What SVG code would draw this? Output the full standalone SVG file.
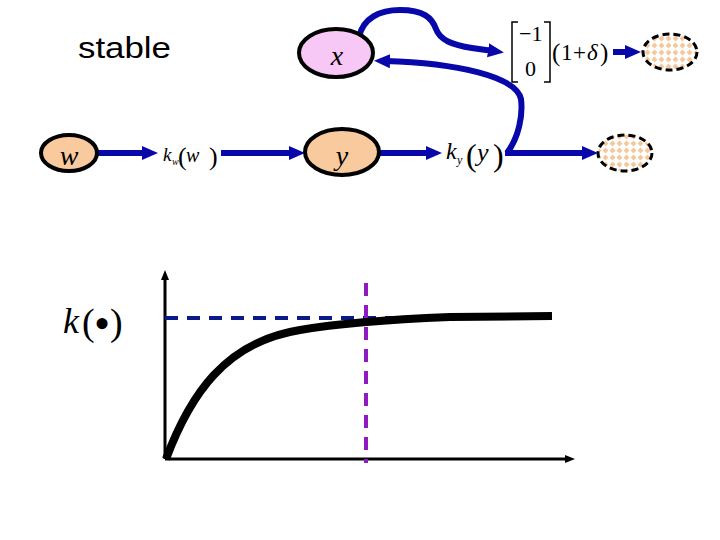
<svg xmlns="http://www.w3.org/2000/svg" width="720" height="540" viewBox="0 0 720 540">
<style>
.node{stroke:#000;stroke-width:4}
.pink{fill:#f7c8f5}
.peach{fill:#f8ca9e}
.ghost{fill:url(#chk);stroke:#000;stroke-width:3;stroke-dasharray:7 4}
.math{font-family:"Liberation Serif","Times New Roman",serif;fill:#000}
.it{font-style:italic}
.conn{fill:none;stroke:#0808aa;stroke-width:6}
.sans{font-family:"Liberation Sans",Arial,sans-serif;fill:#000}
</style>
<defs>
<marker id="arr" viewBox="0 0 16 16" refX="5" refY="8" markerWidth="16" markerHeight="16" markerUnits="userSpaceOnUse" orient="auto">
<path d="M0,1 L16,8 L0,15 z" fill="#0808aa"/>
</marker>
<marker id="ax" viewBox="0 0 10 10" refX="3" refY="5" markerWidth="10" markerHeight="10" markerUnits="userSpaceOnUse" orient="auto">
<path d="M0,1 L10,5 L0,9 z" fill="#000"/>
</marker>
<pattern id="chk" patternUnits="userSpaceOnUse" width="7" height="7">
<rect width="7" height="7" fill="#fff"/>
<polygon points="3.5,0.6 6.4,3.5 3.5,6.4 0.6,3.5" fill="#f5c79a"/>
</pattern>
</defs>
<rect width="720" height="540" fill="#fff"/>

<g id="label-stable">
<text class="sans" x="78" y="58" font-size="29" textLength="93" lengthAdjust="spacingAndGlyphs">stable</text>
</g>

<g id="connectors">
<path class="conn" d="M97,153 L147,153" marker-end="url(#arr)"/>
<path class="conn" d="M221,153 L294,153" marker-end="url(#arr)"/>
<path class="conn" d="M380,153 L431,153" marker-end="url(#arr)"/>
<path class="conn" d="M505,153 L587,153" marker-end="url(#arr)"/>
<path class="conn" d="M507,153 C519,137 523,115 521,99 C516,76 455,63 385,61" marker-end="url(#arr)"/>
<path class="conn" d="M359,37 C363,18 380,10 400,10 C424,10 432,18 436,29 C440,40 452,45 472,48 L493,51" marker-end="url(#arr)"/>
<path class="conn" d="M613,52 L630,52" marker-end="url(#arr)"/>
</g>

<g id="node-w">
<ellipse class="node peach" cx="69" cy="153" rx="28" ry="18"/>
<text class="math it" x="69" y="165" font-size="28" text-anchor="middle">w</text>
</g>

<g id="node-x">
<ellipse class="node pink" cx="336" cy="53" rx="37" ry="24"/>
<text class="math it" x="337" y="65" font-size="28" text-anchor="middle">x</text>
</g>

<g id="node-y">
<ellipse class="node peach" cx="342" cy="152" rx="37" ry="23"/>
<text class="math it" x="342" y="165" font-size="28" text-anchor="middle">y</text>
</g>

<g id="label-kw">
<text class="math it" x="163" y="161" font-size="19">k</text>
<text class="math it" x="172" y="165" font-size="10">w</text>
<text class="math" x="178" y="165" font-size="26">(</text>
<text class="math it" x="186" y="162" font-size="20">w</text>
<text class="math" x="209" y="165" font-size="26">)</text>
</g>

<g id="label-ky">
<text class="math it" x="446" y="159" font-size="24">k</text>
<text class="math it" x="457" y="164" font-size="12">y</text>
<text class="math" x="466" y="166" font-size="32">(</text>
<text class="math it" x="477" y="161" font-size="26">y</text>
<text class="math" x="493" y="166" font-size="32">)</text>
</g>

<g id="matrix">
<polyline points="518,22 512,22 512,82 518,82" fill="none" stroke="#000" stroke-width="1.5"/>
<polyline points="544,22 550,22 550,82 544,82" fill="none" stroke="#000" stroke-width="1.5"/>
<text class="math" x="519" y="41" font-size="22">−1</text>
<text class="math" x="525" y="76" font-size="22">0</text>
<text class="math" x="552" y="61" font-size="25">(</text>
<text class="math" x="561" y="60" font-size="23">1</text>
<text class="math" x="573" y="60" font-size="23">+</text>
<text class="math it" x="587" y="60" font-size="23">δ</text>
<text class="math" x="600" y="61" font-size="25">)</text>
</g>

<g id="node-out1">
<ellipse class="ghost" cx="670" cy="52" rx="27" ry="18"/>
</g>
<g id="node-out2">
<ellipse class="ghost" cx="625" cy="153" rx="27" ry="18"/>
</g>

<g id="graph">
<line x1="165" y1="459" x2="165" y2="277" stroke="#000" stroke-width="3" marker-end="url(#ax)"/>
<line x1="165" y1="459" x2="568" y2="459" stroke="#000" stroke-width="3" marker-end="url(#ax)"/>
<line x1="165" y1="318" x2="517" y2="318" stroke="#0a1a8a" stroke-width="4" stroke-dasharray="13 9"/>
<path d="M166,459 C190,395 225,342 300,330 C340,323 400,319 450,317 L552,316" fill="none" stroke="#000" stroke-width="8"/>
<line x1="366" y1="283" x2="366" y2="463" stroke="#8e1ac0" stroke-width="4" stroke-dasharray="13 9"/>
<text class="math it" x="63" y="333" font-size="36">k</text>
<text class="math" x="82" y="335" font-size="38">(</text>
<text class="math" x="94" y="339" font-size="46">•</text>
<text class="math" x="110" y="335" font-size="38">)</text>
</g>
</svg>
